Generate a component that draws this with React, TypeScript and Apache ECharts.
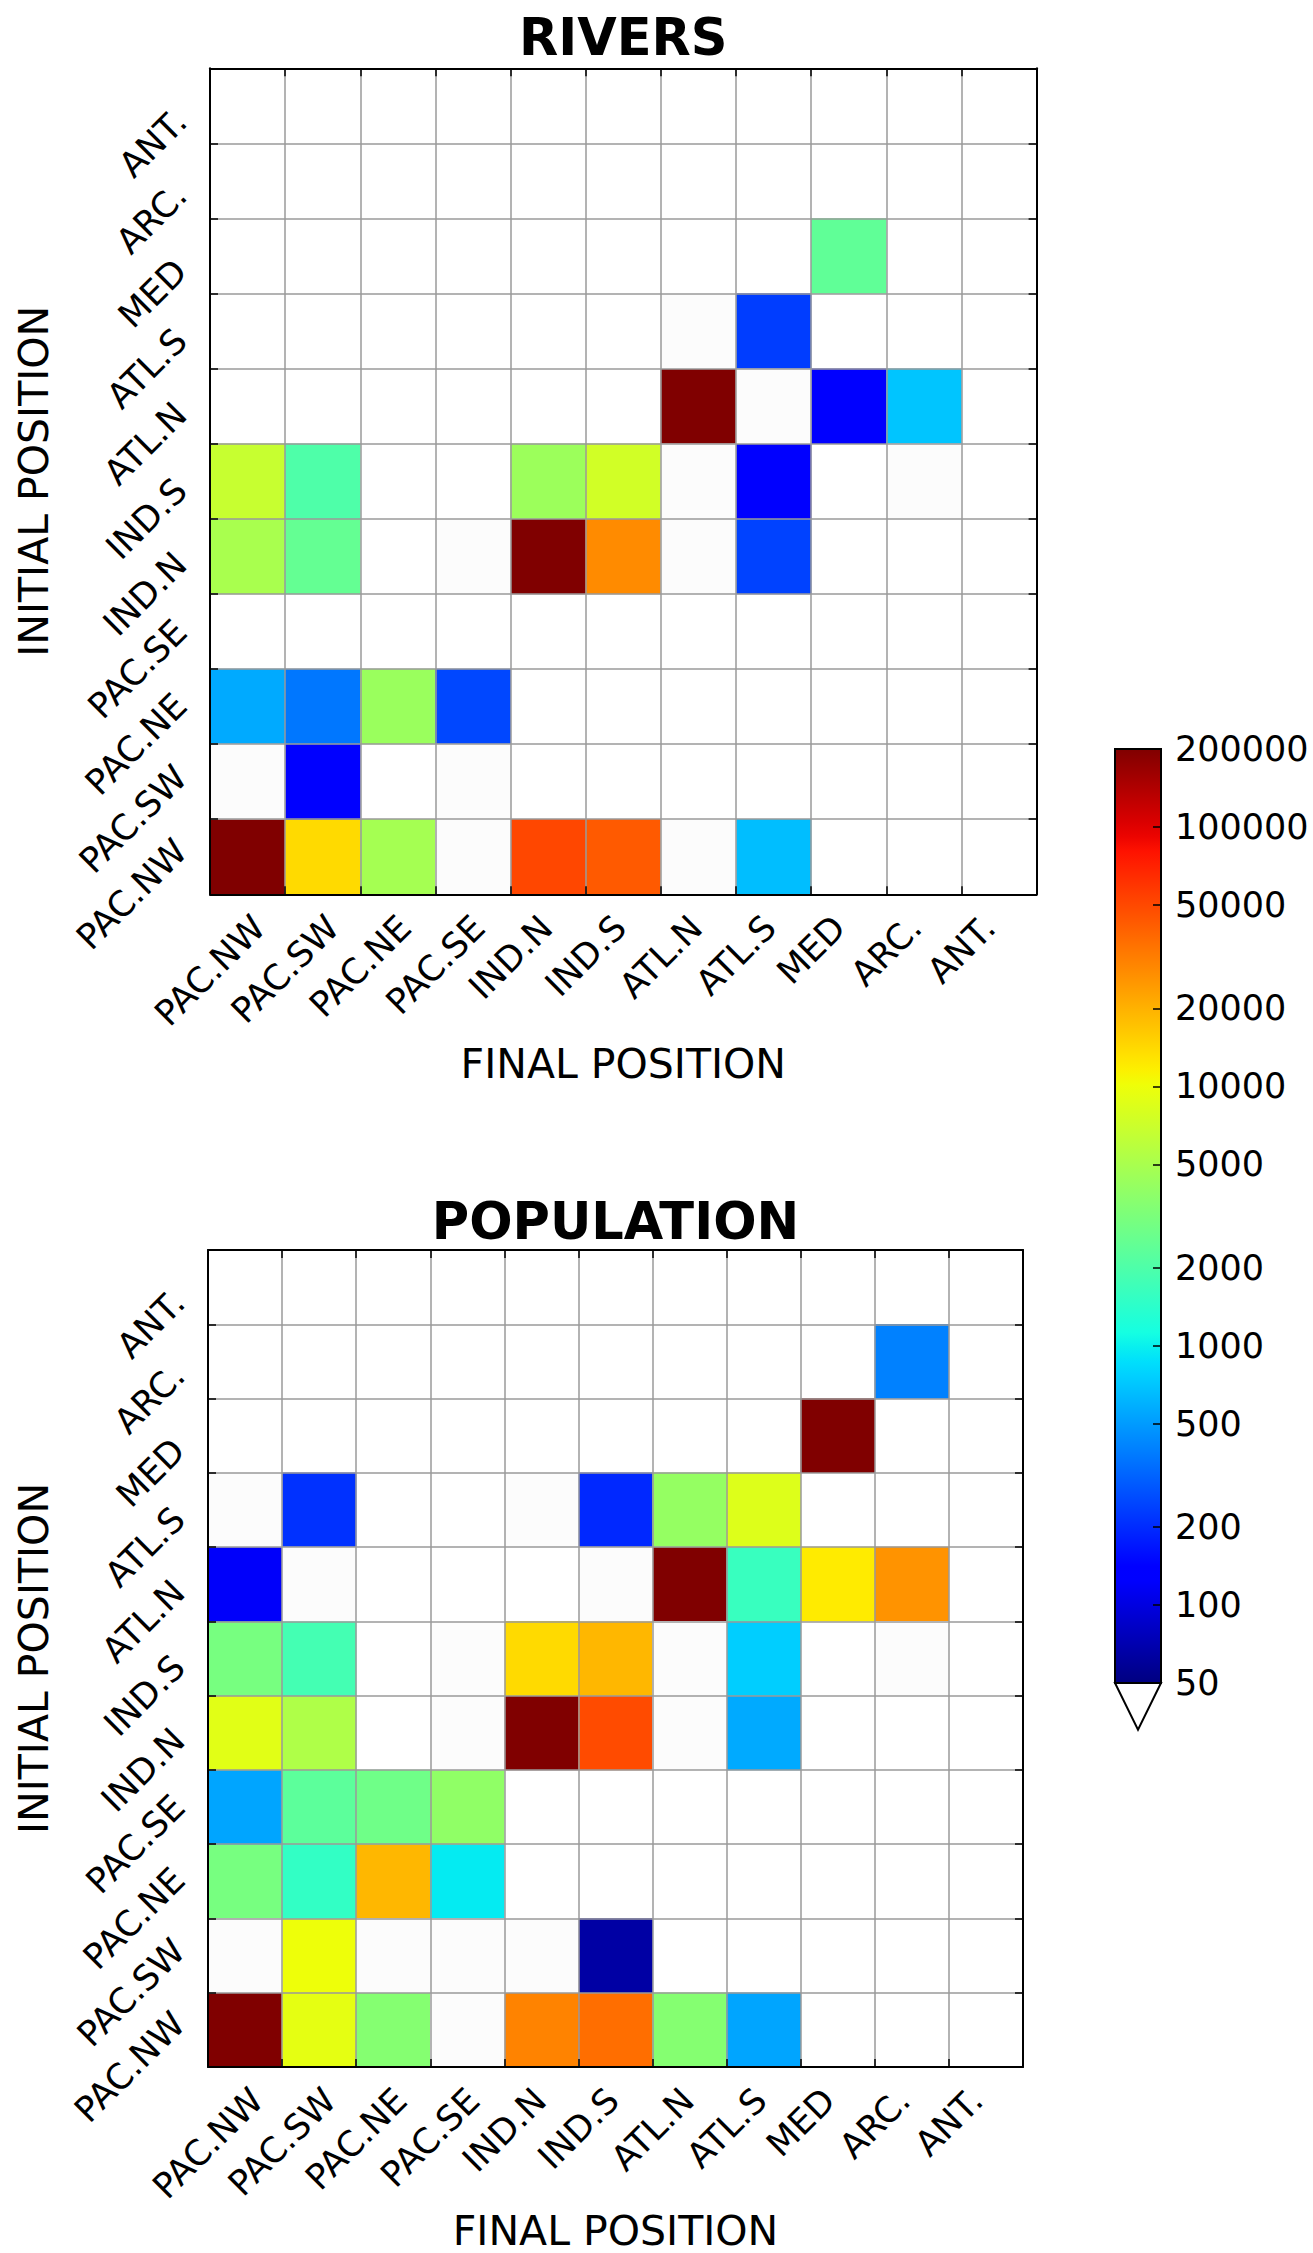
import React, { useEffect, useRef } from 'react';
import * as echarts from 'echarts';

// ---------------- data ----------------
const REGIONS = ['PAC.NW', 'PAC.SW', 'PAC.NE', 'PAC.SE', 'IND.N', 'IND.S', 'ATL.N', 'ATL.S', 'MED', 'ARC.', 'ANT.'];
const CB_TICKS = [50, 100, 200, 500, 1000, 2000, 5000, 10000, 20000, 50000, 100000, 200000];
const VMIN = 50;
const VMAX = 200000;

// rows = initial position (REGIONS order, PAC.NW first), columns = final position.
// 0 = no value, 20 = below the colour range (drawn in the "under" colour)
const RIVERS: number[][] = [
  [200000, 14000, 4800, 20, 51000, 43000, 20, 660, 0, 0, 0], // PAC.NW
  [20, 130, 0, 20, 0, 0, 0, 0, 0, 0, 0],                      // PAC.SW
  [560, 370, 4300, 250, 0, 0, 0, 0, 0, 0, 0],                 // PAC.NE
  [0, 0, 0, 0, 0, 0, 0, 0, 0, 0, 0],                          // PAC.SE
  [5000, 2500, 0, 20, 200000, 28000, 20, 240, 0, 0, 0],      // IND.N
  [6800, 2000, 0, 0, 4400, 7500, 20, 125, 0, 20, 0],         // IND.S
  [0, 0, 0, 0, 0, 0, 200000, 20, 130, 700, 0],               // ATL.N
  [0, 0, 0, 0, 0, 0, 20, 230, 0, 0, 0],                       // ATL.S
  [0, 0, 0, 0, 0, 0, 0, 0, 2400, 0, 0],                       // MED
  [0, 0, 0, 0, 0, 0, 0, 0, 0, 0, 0],                          // ARC.
  [0, 0, 0, 0, 0, 0, 0, 0, 0, 0, 0],                          // ANT.
];

const POPULATION: number[][] = [
  [200000, 9200, 3500, 20, 30000, 36000, 3500, 540, 0, 0, 0], // PAC.NW
  [20, 10000, 20, 20, 20, 65, 0, 0, 0, 0, 0],                 // PAC.SW
  [3000, 1500, 19000, 950, 0, 0, 0, 0, 0, 0, 0],              // PAC.NE
  [540, 2300, 2800, 3900, 0, 0, 0, 0, 0, 0, 0],               // PAC.SE
  [8800, 5300, 0, 20, 200000, 49000, 20, 560, 0, 0, 0],      // IND.N
  [3000, 1800, 0, 20, 14000, 19000, 20, 750, 0, 20, 0],      // IND.S
  [120, 20, 0, 0, 0, 20, 200000, 1600, 12000, 26000, 0],     // ATL.N
  [20, 210, 0, 0, 20, 195, 4100, 8400, 0, 0, 0],             // ATL.S
  [0, 0, 0, 0, 0, 0, 0, 0, 200000, 0, 0],                     // MED
  [0, 0, 0, 0, 0, 0, 0, 0, 0, 400, 0],                        // ARC.
  [0, 0, 0, 0, 0, 0, 0, 0, 0, 0, 0],                          // ANT.
];

// ---------------- style ----------------
const FONT = '"DejaVu Sans", "Noto Sans", sans-serif';
const TICK_FS = 35;
const LABEL_FS = 41;
const TITLE_FS = 51;
const LH = 35;
const GRID_COLOR = '#9a9a9a';
const UNDER_COLOR = '#fcfcfc';

const PLOTS = [
  { title: 'RIVERS', data: RIVERS, left: 210, top: 68.3, width: 826.6, height: 826, xNameGap: 149, yNameGap: 156, titleGap: 5 },
  { title: 'POPULATION', data: POPULATION, left: 208, top: 1250, width: 815, height: 817, xNameGap: 143, yNameGap: 154, titleGap: 3 },
];
const CB_GRID = { left: 1115, top: 749, width: 46, height: 934 };

const LOG_MIN = Math.log10(VMIN);
const LOG_MAX = Math.log10(VMAX);

// matplotlib "jet" colormap
const JET_R = [[0, 0], [0.35, 0], [0.66, 1], [0.89, 1], [1, 0.5]];
const JET_G = [[0, 0], [0.125, 0], [0.375, 1], [0.64, 1], [0.91, 0], [1, 0]];
const JET_B = [[0, 0.5], [0.11, 1], [0.34, 1], [0.65, 0], [1, 0]];
function seg(pts: number[][], t: number): number {
  for (let i = 1; i < pts.length; i++) {
    if (t <= pts[i][0]) {
      const [x0, y0] = pts[i - 1];
      const [x1, y1] = pts[i];
      return y0 + ((y1 - y0) * (t - x0)) / (x1 - x0);
    }
  }
  return pts[pts.length - 1][1];
}
function jet(t: number): string {
  const c = (p: number[][]) => Math.round(255 * seg(p, t));
  return `rgb(${c(JET_R)},${c(JET_G)},${c(JET_B)})`;
}
const JET = Array.from({ length: 256 }, (_, i) => jet(i / 255));

function toHeat(matrix: number[][]) {
  const out: number[][] = [];
  matrix.forEach((row, r) =>
    row.forEach((v, c) => {
      if (v >= VMIN) out.push([c, r, Math.min(Math.log10(v), LOG_MAX)]);
    })
  );
  return out;
}
function toUnder(matrix: number[][]) {
  const out: number[][] = [];
  matrix.forEach((row, r) =>
    row.forEach((v, c) => {
      if (v > 0 && v < VMIN) out.push([c, r, v]);
    })
  );
  return out;
}

function measure(s: string, size: number): number {
  const ctx = document.createElement('canvas').getContext('2d') as CanvasRenderingContext2D;
  ctx.font = `${size}px "DejaVu Sans"`;
  return ctx.measureText(s).width;
}

export default function App() {
  const ref = useRef<HTMLDivElement>(null);

  useEffect(() => {
    if (!ref.current) return;
    const chart = echarts.init(ref.current, null, { renderer: 'svg' });

    const widths = REGIONS.map((r) => measure(r, TICK_FS));
    const wmax = Math.max(...widths);
    const K = Math.SQRT1_2 / 2; // 0.354
    const X_PAD = 15;
    const Y_PAD = 17;
    // Labels are rotated 45°, right-anchored; margins and paddings put the centre of
    // each rotated label's bounding box on its tick, as matplotlib does.
    const xMargin = X_PAD + K * (LH - wmax);
    const yMargin = Y_PAD + K * (LH - wmax);
    const labelFont = { fontSize: TICK_FS, lineHeight: LH, fontFamily: FONT, color: '#000' };

    const xLabelData: any[] = [
      ...REGIONS.map((r, i) => ({
        value: r,
        textStyle: {
          ...labelFont,
          align: 'right',
          verticalAlign: 'top',
          padding: [Math.max(0, 0.25 * (widths[i] + wmax) - LH / 2), 0.25 * (wmax - widths[i]), 0, 0],
        },
      })),
      '',
    ];
    const yLabelData: any[] = [
      ...REGIONS.map((r, i) => ({
        value: r,
        textStyle: {
          ...labelFont,
          align: 'right',
          verticalAlign: 'bottom',
          padding: [0, 0.25 * (wmax - widths[i]), Math.max(0, 0.25 * (widths[i] + wmax) - LH / 2), 0],
        },
      })),
      '',
    ];
    const SLOTS = [...REGIONS, ''];

    const text = { fontFamily: FONT, color: '#000' };
    const axisLine = { show: true, onZero: false, lineStyle: { color: '#000', width: 2 } };
    const axisTick = { show: true, inside: true, length: 8, interval: 0, lineStyle: { color: '#000', width: 1.5 } };
    const splitLine = { show: true, interval: 0, lineStyle: { color: GRID_COLOR, width: 1.5 } };

    const grid: any[] = [
      ...PLOTS.map((p) => ({ left: p.left, top: p.top, width: p.width, height: p.height, outerBoundsMode: 'none', containLabel: false })),
      { ...CB_GRID, outerBoundsMode: 'none', containLabel: false },
    ];

    const xAxis: any[] = [];
    const yAxis: any[] = [];
    PLOTS.forEach((p, i) => {
      xAxis.push({ type: 'category', gridIndex: i, data: REGIONS, show: false });
      xAxis.push({
        type: 'category', gridIndex: i, position: 'bottom', boundaryGap: false, data: xLabelData, z: 5,
        axisLine, axisTick,
        axisLabel: { interval: 0, rotate: 45, margin: xMargin, hideOverlap: false, ...labelFont },
        splitLine,
        name: 'FINAL POSITION', nameLocation: 'middle', nameGap: p.xNameGap, nameMoveOverlap: false,
        nameTextStyle: { fontSize: LABEL_FS, lineHeight: LABEL_FS, ...text },
      });
      xAxis.push({
        type: 'category', gridIndex: i, position: 'top', boundaryGap: false, data: SLOTS, z: 5,
        axisLine, axisTick, axisLabel: { show: false }, splitLine: { show: false },
        name: p.title, nameLocation: 'middle', nameGap: p.titleGap, nameMoveOverlap: false,
        nameTextStyle: { fontSize: TITLE_FS, lineHeight: TITLE_FS, fontWeight: 'bold', ...text },
      });

      yAxis.push({ type: 'category', gridIndex: i, data: REGIONS, show: false });
      yAxis.push({
        type: 'category', gridIndex: i, position: 'left', boundaryGap: false, data: yLabelData, z: 5,
        axisLine, axisTick,
        axisLabel: { interval: 0, rotate: 45, margin: yMargin, hideOverlap: false, ...labelFont },
        splitLine,
        name: 'INITIAL POSITION', nameLocation: 'middle', nameGap: p.yNameGap, nameMoveOverlap: false,
        nameTextStyle: { fontSize: LABEL_FS, lineHeight: LABEL_FS, ...text },
      });
      yAxis.push({
        type: 'category', gridIndex: i, position: 'right', boundaryGap: false, data: SLOTS, z: 5,
        axisLine, axisTick, axisLabel: { show: false }, splitLine: { show: false },
      });
    });

    const cbTickVals = CB_TICKS.map((v) => Math.log10(v));
    xAxis.push({ type: 'category', gridIndex: 2, data: ['cb'], show: false });
    yAxis.push({
      type: 'value', gridIndex: 2, position: 'right', min: LOG_MIN, max: LOG_MAX, z: 5,
      axisLine: { show: false },
      splitLine: { show: false },
      axisTick: { show: true, inside: true, length: 8, customValues: cbTickVals, lineStyle: { color: '#000', width: 1.5 } },
      axisLabel: {
        show: true, customValues: cbTickVals, margin: 14, fontSize: TICK_FS, hideOverlap: false, ...text,
        formatter: (v: number) => String(Math.round(Math.pow(10, v))),
      },
    });

    const gradStops = Array.from({ length: 65 }, (_, i) => ({ offset: i / 64, color: jet(1 - i / 64) }));

    const series: any[] = PLOTS.map((p, i) => ({
      type: 'heatmap',
      xAxisIndex: 3 * i,
      yAxisIndex: 3 * i,
      data: toHeat(p.data),
      silent: true,
      emphasis: { disabled: true },
      itemStyle: { borderWidth: 0 },
      progressive: 0,
    }));
    PLOTS.forEach((p, i) => {
      series.push({
        type: 'heatmap',
        xAxisIndex: 3 * i,
        yAxisIndex: 3 * i,
        data: toUnder(p.data),
        silent: true,
        emphasis: { disabled: true },
        itemStyle: { borderWidth: 0 },
        progressive: 0,
      });
    });
    series.push({
      type: 'custom',
      xAxisIndex: 6,
      yAxisIndex: 6,
      silent: true,
      clip: false,
      data: [[0, LOG_MIN]],
      renderItem: (params: any, api: any) => {
        const cs = params.coordSys;
        const bottom = api.coord([0, LOG_MIN])[1];
        const top = api.coord([0, LOG_MAX])[1];
        const ext = 0.05 * (bottom - top);
        return {
          type: 'group',
          children: [
            {
              type: 'rect',
              shape: { x: cs.x, y: top, width: cs.width, height: bottom - top },
              style: { fill: new echarts.graphic.LinearGradient(0, 0, 0, 1, gradStops), stroke: '#000', lineWidth: 2 },
            },
            {
              type: 'polygon',
              shape: { points: [[cs.x, bottom], [cs.x + cs.width, bottom], [cs.x + cs.width / 2, bottom + ext]] },
              style: { fill: '#fff', stroke: '#000', lineWidth: 2 },
            },
          ],
        };
      },
    });

    chart.setOption({
      animation: false,
      backgroundColor: '#fff',
      textStyle: { fontFamily: FONT },
      grid,
      xAxis,
      yAxis,
      visualMap: [
        {
          type: 'continuous',
          show: false,
          min: LOG_MIN,
          max: LOG_MAX,
          dimension: 2,
          seriesIndex: [0, 1],
          inRange: { color: JET },
        },
        {
          type: 'continuous',
          show: false,
          min: 0,
          max: VMIN,
          dimension: 2,
          seriesIndex: [2, 3],
          inRange: { color: [UNDER_COLOR, UNDER_COLOR] },
        },
      ],
      series,
    });

    return () => chart.dispose();
  }, []);

  return (
    <div
      ref={ref}
      style={{ position: 'absolute', left: 0, top: 0, width: 1313, height: 2253, background: '#fff' }}
    />
  );
}
